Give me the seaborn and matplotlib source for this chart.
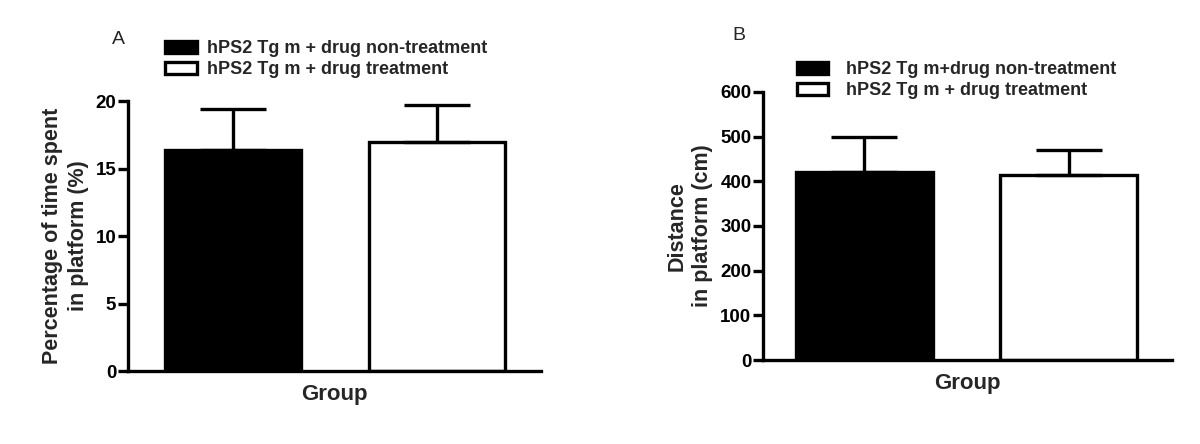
import matplotlib
matplotlib.use("Agg")
import matplotlib.pyplot as plt
import seaborn as sns
import pandas as pd
from matplotlib.patches import Patch

sns.set_theme(style="ticks")
plt.rcParams['font.family'] = ['Liberation Sans', 'DejaVu Sans']

groups = ["hPS2 Tg m + drug non-treatment", "hPS2 Tg m + drug treatment"]
legend_a = ["hPS2 Tg m + drug non-treatment", "hPS2 Tg m + drug treatment"]
legend_b = ["hPS2 Tg m+drug non-treatment", "hPS2 Tg m + drug treatment"]
pct_mean = [16.4, 17.0]
pct_sem = [3.0, 2.7]
dist_mean = [421, 415]
dist_sem = [79, 56]
pct_ticks = [0, 5, 10, 15, 20]
dist_ticks = [0, 100, 200, 300, 400, 500, 600]
colors = ["black", "white"]

fig = plt.figure(figsize=(12, 4.44), dpi=100)
axA = fig.add_axes([0.1067, 0.1644, 0.344, 0.608])
axB = fig.add_axes([0.636, 0.189, 0.341, 0.604])

LW = 2.4

def draw(ax, means, sems, ticks, ylabel, xlim, labels, legend_anchor, textpad, letter, letter_pos):
    df = pd.DataFrame({"group": groups, "value": means})
    sns.barplot(data=df, x="group", y="value", hue="group", palette=colors,
                edgecolor="black", linewidth=LW, width=0.67, ax=ax, legend=False,
                errorbar=None, zorder=2)
    ax.errorbar([0, 1], means, yerr=[[0, 0], sems], fmt="none", ecolor="black",
                elinewidth=LW, capsize=24, capthick=LW, zorder=3)
    ax.set_ylim(ticks[0], ticks[-1])
    ax.set_yticks(ticks)
    ax.set_xlim(*xlim)
    ax.set_xticks([])
    ax.set_xlabel("Group", fontsize=16, fontweight="bold", labelpad=9)
    ax.set_ylabel(ylabel, fontsize=15.5, fontweight="bold", labelpad=5, linespacing=1.3)
    for s in ["top", "right"]:
        ax.spines[s].set_visible(False)
    for s in ["left", "bottom"]:
        ax.spines[s].set_linewidth(LW)
        ax.spines[s].set_color("black")
    ax.tick_params(axis="y", length=7, width=LW, labelsize=13.5, colors="black", pad=1.5)
    for t in ax.get_yticklabels():
        t.set_fontweight("bold")
    handles = [Patch(facecolor=c, edgecolor="black", linewidth=LW) for c in colors]
    ax.legend(handles, labels, loc="upper left", bbox_to_anchor=legend_anchor,
              bbox_transform=fig.transFigure, frameon=False,
              prop={"weight": "bold", "size": 13}, handlelength=1.75, handleheight=0.65,
              handletextpad=textpad, labelspacing=0.2, borderpad=0, borderaxespad=0)
    fig.text(letter_pos[0], letter_pos[1], letter, fontsize=14, ha="left", va="center")

draw(axA, pct_mean, pct_sem, pct_ticks, "Percentage of time spent\nin platform (%)",
     (-0.515, 1.51), legend_a, (0.1375, 0.909), 0.6, "A", (0.0933, 0.91))
draw(axB, dist_mean, dist_sem, dist_ticks, "Distance\nin platform (cm)",
     (-0.494, 1.506), legend_b, (0.664, 0.862), 0.95, "B", (0.61, 0.921))

fig.savefig("out.png", dpi=100, facecolor="white")
